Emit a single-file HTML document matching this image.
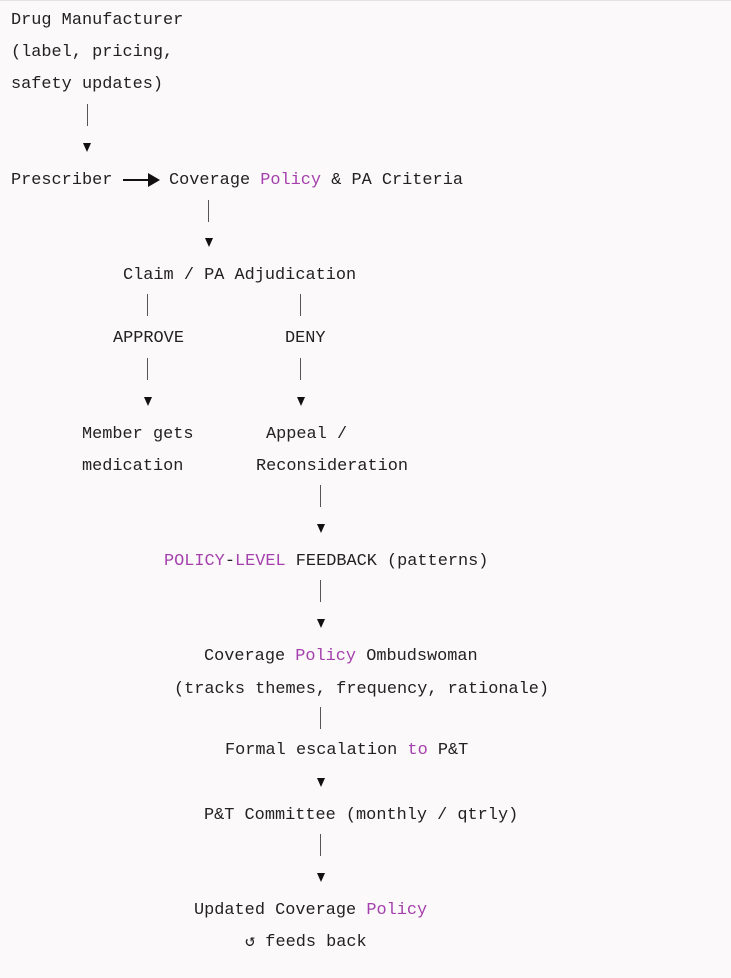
<!DOCTYPE html>
<html><head><meta charset="utf-8"><style>
html,body{margin:0;padding:0}
body{width:731px;height:978px;background:#fcf9fa;position:relative;overflow:hidden;font-family:"Liberation Mono",monospace;font-size:16.9px;color:#222}
.t{position:absolute;white-space:pre;line-height:20px;height:20px;margin-top:2px}
.p{color:#a441ad}
.v{position:absolute;width:1.2px;height:22px;background:#555}
.a{position:absolute;width:0;height:0;border-left:4.5px solid transparent;border-right:4.5px solid transparent;border-top:9px solid #111}
</style></head><body>
<div style="position:absolute;left:0;top:0;width:731px;height:1px;background:#e4e2e3"></div>
<div class="t" style="left:11px;top:9px">Drug Manufacturer</div>
<div class="t" style="left:11px;top:41px">(label, pricing,</div>
<div class="t" style="left:11px;top:73px">safety updates)</div>
<div class="v" style="left:87px;top:104px"></div>
<div class="a" style="left:83px;top:143px"></div>

<div class="t" style="left:11px;top:169px">Prescriber</div>
<div style="position:absolute;left:123px;top:179px;width:26px;height:1.5px;background:#111"></div>
<div style="position:absolute;left:148px;top:173px;width:0;height:0;border-top:7px solid transparent;border-bottom:7px solid transparent;border-left:12px solid #111"></div>
<div class="t" style="left:169px;top:169px">Coverage <span class="p">Policy</span> &amp; PA Criteria</div>
<div class="v" style="left:208px;top:200px"></div>
<div class="a" style="left:205px;top:238px"></div>

<div class="t" style="left:123px;top:264px">Claim / PA Adjudication</div>
<div class="v" style="left:147px;top:294px"></div>
<div class="v" style="left:300px;top:294px"></div>
<div class="t" style="left:113px;top:327px">APPROVE</div>
<div class="t" style="left:285px;top:327px">DENY</div>
<div class="v" style="left:147px;top:358px"></div>
<div class="v" style="left:300px;top:358px"></div>
<div class="a" style="left:144px;top:397px"></div>
<div class="a" style="left:297px;top:397px"></div>

<div class="t" style="left:82px;top:423px">Member gets</div>
<div class="t" style="left:266px;top:423px">Appeal /</div>
<div class="t" style="left:82px;top:455px">medication</div>
<div class="t" style="left:256px;top:455px">Reconsideration</div>
<div class="v" style="left:320px;top:485px"></div>
<div class="a" style="left:317px;top:524px"></div>

<div class="t" style="left:164px;top:550px"><span class="p">POLICY</span>-<span class="p">LEVEL</span> FEEDBACK (patterns)</div>
<div class="v" style="left:320px;top:580px"></div>
<div class="a" style="left:317px;top:619px"></div>

<div class="t" style="left:204px;top:645px">Coverage <span class="p">Policy</span> Ombudswoman</div>
<div class="t" style="left:174px;top:678px">(tracks themes, frequency, rationale)</div>
<div class="v" style="left:320px;top:707px"></div>
<div class="t" style="left:225px;top:739px">Formal escalation <span class="p">to</span> P&amp;T</div>
<div class="a" style="left:317px;top:778px"></div>

<div class="t" style="left:204px;top:804px">P&amp;T Committee (monthly / qtrly)</div>
<div class="v" style="left:320px;top:834px"></div>
<div class="a" style="left:317px;top:873px"></div>

<div class="t" style="left:194px;top:899px">Updated Coverage <span class="p">Policy</span></div>
<div class="t" style="left:245px;top:931px">↺ feeds back</div>
</body></html>
